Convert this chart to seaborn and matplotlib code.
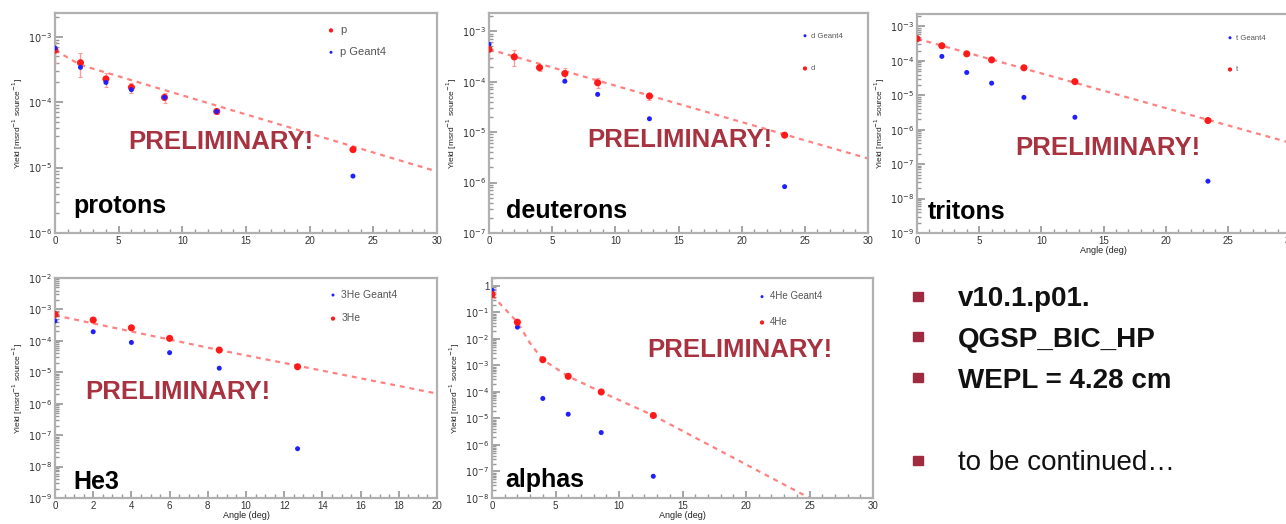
"""Angular yield of light fragments: data vs Geant4 (five log panels + notes)."""

import matplotlib

matplotlib.use("Agg")

import matplotlib.pyplot as plt
import numpy as np
import seaborn as sns
from matplotlib.patches import Rectangle
from matplotlib.ticker import FuncFormatter, LogLocator, MultipleLocator

# ---- data ------------------------------------------------------------------
ANGLES = [0, 2, 4, 6, 8.6, 12.7, 23.4]
ANGLES_SHORT = [0, 2, 4, 6, 8.6, 12.7]

proton_data = [6.2e-4, 4.0e-4, 2.26e-4, 1.68e-4, 1.18e-4, 7.2e-5, 1.88e-5]
proton_rel_err = [0.35, 0.40, 0.25, 0.18, 0.18, 0.10, 0.05]
proton_g4 = [6.7e-4, 3.4e-4, 2.0e-4, 1.55e-4, 1.18e-4, 7.2e-5, 7.4e-6]
proton_fit_x = [0, 2, 30]
proton_fit_y = [6.2e-4, 3.7e-4, 8.7e-6]

deuteron_data = [4.4e-4, 3.1e-4, 1.9e-4, 1.45e-4, 9.5e-5, 5.2e-5, 8.7e-6]
deuteron_rel_err = [0.35, 0.35, 0.15, 0.30, 0.22, 0.15, 0.05]
deuteron_g4_x = [0, 6, 8.6, 12.7, 23.4]
deuteron_g4 = [5.5e-4, 1.02e-4, 5.6e-5, 1.84e-5, 8.3e-7]
deuteron_fit_x = [0, 30]
deuteron_fit_y = [4.4e-4, 3.0e-6]

triton_data = [4.4e-4, 2.75e-4, 1.6e-4, 1.07e-4, 6.3e-5, 2.5e-5, 1.85e-6]
triton_g4_x = [2, 4, 6, 8.6, 12.7, 23.4]
triton_g4 = [1.35e-4, 4.6e-5, 2.25e-5, 8.7e-6, 2.3e-6, 3.2e-8]
triton_fit_x = [0, 30]
triton_fit_y = [4.4e-4, 4.2e-7]

he3_data = [6.9e-4, 4.6e-4, 2.6e-4, 1.2e-4, 5.1e-5, 1.5e-5]
he3_g4 = [4.3e-4, 1.95e-4, 8.9e-5, 4.2e-5, 1.35e-5, 3.7e-8]
he3_fit_x = [0, 8.6, 20]
he3_fit_y = [6.5e-4, 5.1e-5, 2.1e-6]

alpha_data = [0.48, 4.3e-2, 1.65e-3, 3.9e-4, 1.0e-4, 1.3e-5]
alpha_g4 = [0.69, 2.8e-2, 5.7e-5, 1.45e-5, 2.95e-6, 6.6e-8]
alpha_fit_x = [0, 2, 3, 4, 6, 8.6, 12.7, 25]
alpha_fit_y = [0.45, 4.3e-2, 6.9e-3, 1.65e-3, 3.9e-4, 1.0e-4, 1.3e-5, 1e-8]

notes_bold = ["v10.1.p01.", "QGSP_BIC_HP", "WEPL = 4.28 cm"]
note_tail = "to be continued\u2026"

# ---- style ------------------------------------------------------------------
W, H = 1286, 524
RED = "#ff1a1a"
BLUE = "#2020ff"
PRELIM = "#a8323f"
BULLET = "#9e2b3e"

sns.set_theme(style="ticks")
plt.rcParams["font.family"] = ["Liberation Sans", "DejaVu Sans"]
plt.rcParams.update(
    {
        "xtick.direction": "in",
        "ytick.direction": "in",
        "axes.edgecolor": "#b0b0b0",
        "axes.linewidth": 1.6,
        "xtick.color": "#999999",
        "ytick.color": "#999999",
        "xtick.labelcolor": "#333333",
        "ytick.labelcolor": "#333333",
        "xtick.labelsize": 7,
        "ytick.labelsize": 7,
        "xtick.major.size": 5,
        "ytick.major.size": 6,
        "xtick.minor.size": 3,
        "ytick.minor.size": 3,
    }
)


def fx(px):
    return px / W


def fy(py):
    return 1 - py / H


def _log_label(v, pos):
    e = int(round(np.log10(v)))
    return "1" if e == 0 else rf"$10^{{{e}}}$"


def make_panel(fig, box, xmax, ylim, xmajor, xminor, xlabel=False):
    left, top, right, bottom = box
    ax = fig.add_axes([fx(left), fy(bottom), (right - left) / W, (bottom - top) / H])
    ax.set_yscale("log")
    ax.set_xlim(0, xmax)
    ax.set_ylim(*ylim)
    ax.xaxis.set_major_locator(MultipleLocator(xmajor))
    ax.xaxis.set_minor_locator(MultipleLocator(xminor))
    ax.yaxis.set_major_locator(LogLocator(base=10, numticks=20))
    ax.yaxis.set_minor_locator(LogLocator(base=10, subs=np.arange(2, 10), numticks=20))
    ax.yaxis.set_major_formatter(FuncFormatter(_log_label))
    ax.xaxis.set_major_formatter(FuncFormatter(lambda v, p: f"{v:g}"))
    ax.tick_params(axis="both", which="both", top=False, right=False, pad=2)
    ax.set_ylabel("Yield [msrd$^{-1}$ source$^{-1}$]", fontsize=6, color="#222222", labelpad=2)
    if xlabel:
        ax.set_xlabel("Angle (deg)", fontsize=6.5, color="#222222", labelpad=0.5)
    return ax


def draw_series(ax, fit_x, fit_y, x, y, rel_err, gx, gy, label, g4_label, red_first):
    sns.lineplot(x=fit_x, y=fit_y, ax=ax, color=RED, alpha=0.55, lw=1.6,
                 linestyle=(0, (2.2, 2.2)), sort=False, zorder=1)
    if rel_err is not None:
        err = np.asarray(rel_err) * np.asarray(y)
        ax.errorbar(x, y, yerr=err, fmt="none", ecolor="#ff9a9a", elinewidth=1.0,
                    capsize=1.5, capthick=0.8, zorder=2)
    red = dict(x=x, y=y, color=RED, s=26, marker="o", edgecolor="none", label=label, zorder=3)
    blue = dict(x=gx, y=gy, color=BLUE, s=13, marker="o", edgecolor="none", label=g4_label, zorder=3)
    for kw in ([red, blue] if red_first else [blue, red]):
        sns.scatterplot(ax=ax, **kw)


def place_legend(ax, fig, mx, my, fs, spacing_px):
    fs_px = fs * 100 / 72
    handlelength = 0.8
    leg = ax.legend(
        loc="upper left",
        bbox_to_anchor=(fx(mx - handlelength * fs_px / 2), fy(my - fs_px * 0.6)),
        bbox_transform=fig.transFigure,
        frameon=False,
        fontsize=fs,
        handlelength=handlelength,
        handletextpad=0.4,
        labelspacing=(spacing_px - fs_px) / fs_px,
        borderpad=0,
        borderaxespad=0,
        markerscale=0.6,
    )
    for t in leg.get_texts():
        t.set_color("#555555")


def panel_text(fig, px, py, s, size, color, **kw):
    fig.text(fx(px), fy(py), s, fontsize=size, color=color, fontweight="bold", **kw)


fig = plt.figure(figsize=(W / 100, H / 100), dpi=100)

# protons
ax = make_panel(fig, (55, 13, 437, 233), 30, (1e-6, 2.3e-3), 5, 1)
draw_series(ax, proton_fit_x, proton_fit_y, ANGLES, proton_data, proton_rel_err,
            ANGLES, proton_g4, "p", "p Geant4", red_first=True)
place_legend(ax, fig, 331, 32, 8, 23)
panel_text(fig, 128, 142, "PRELIMINARY!", 18.5, PRELIM, va="center")
panel_text(fig, 73, 213, "protons", 18, "black", va="baseline")

# deuterons
ax = make_panel(fig, (489, 13, 868, 233), 30, (1e-7, 2.3e-3), 5, 1)
draw_series(ax, deuteron_fit_x, deuteron_fit_y, ANGLES, deuteron_data, deuteron_rel_err,
            deuteron_g4_x, deuteron_g4, "d", "d Geant4", red_first=False)
place_legend(ax, fig, 805, 37, 5.5, 33)
panel_text(fig, 587, 140, "PRELIMINARY!", 18.5, PRELIM, va="center")
panel_text(fig, 506, 218, "deuterons", 18, "black", va="baseline")

# tritons
ax = make_panel(fig, (917, 14, 1290, 233), 30, (1e-9, 2.3e-3), 5, 1, xlabel=True)
draw_series(ax, triton_fit_x, triton_fit_y, ANGLES, triton_data, None,
            triton_g4_x, triton_g4, "t", "t Geant4", red_first=False)
place_legend(ax, fig, 1230, 39, 5.5, 32)
panel_text(fig, 1015, 148, "PRELIMINARY!", 18.5, PRELIM, va="center")
panel_text(fig, 928, 219, "tritons", 18, "black", va="baseline")

# He3
ax = make_panel(fig, (55, 278, 437, 498), 20, (1e-9, 1e-2), 2, 0.5, xlabel=True)
draw_series(ax, he3_fit_x, he3_fit_y, ANGLES_SHORT, he3_data, None,
            ANGLES_SHORT, he3_g4, "3He", "3He Geant4", red_first=False)
place_legend(ax, fig, 333, 296, 7.5, 24)
panel_text(fig, 85, 392, "PRELIMINARY!", 18.5, PRELIM, va="center")
panel_text(fig, 73, 489, "He3", 18, "black", va="baseline")

# alphas
ax = make_panel(fig, (492, 278, 873, 498), 30, (1e-8, 2), 5, 1, xlabel=True)
draw_series(ax, alpha_fit_x, alpha_fit_y, ANGLES_SHORT, alpha_data, None,
            ANGLES_SHORT, alpha_g4, "4He", "4He Geant4", red_first=False)
place_legend(ax, fig, 762, 297, 7, 25.6)
panel_text(fig, 647, 350, "PRELIMINARY!", 18.5, PRELIM, va="center")
panel_text(fig, 505, 487, "alphas", 18, "black", va="baseline")

# notes with square bullets
baselines = [306.5, 347, 388]
for text, base in zip(notes_bold, baselines):
    fig.patches.append(Rectangle((fx(913), fy(base - 6)), 10 / W, 9 / H,
                                 transform=fig.transFigure, color=BULLET))
    fig.text(fx(958), fy(base), text, fontsize=20, fontweight="bold", color="#111111", va="baseline")
fig.patches.append(Rectangle((fx(913), fy(465)), 10 / W, 9 / H,
                             transform=fig.transFigure, color=BULLET))
fig.text(fx(958), fy(470), note_tail, fontsize=20, color="#111111", va="baseline")

fig.savefig("out.png", dpi=100)
